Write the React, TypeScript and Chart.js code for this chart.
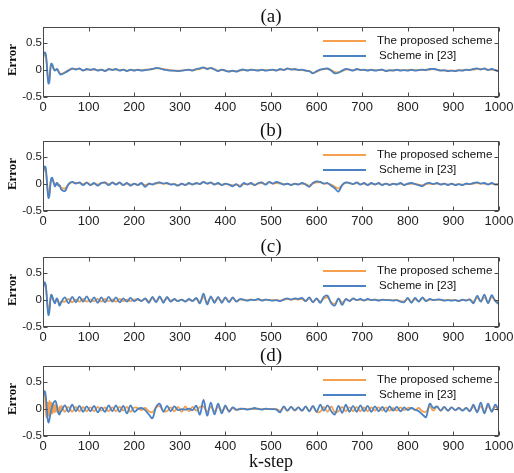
import React, { useEffect, useRef } from "react";
import { Chart, registerables } from "chart.js";

Chart.register(...registerables);

// k-step sample positions
const K = [
  0, 2, 4, 6, 8, 10, 12, 14, 16, 18, 20, 22, 24, 26, 28, 30, 32, 34, 36, 38,
  40, 48, 56, 64, 72, 80, 88, 96, 104, 112, 120, 128, 136, 144, 152, 160, 168, 176, 184, 192, 200,
  208, 216, 224, 232, 240, 248, 256, 264, 272, 280, 288, 296, 304, 312, 320, 328, 336, 344, 352, 360, 368, 376, 384, 392, 400,
  408, 416, 424, 432, 440, 448, 456, 464, 472, 480, 488, 496, 504, 512, 520, 528, 536, 544, 552, 560, 568, 576, 584, 592, 600,
  608, 616, 624, 632, 640, 648, 656, 664, 672, 680, 688, 696, 704, 712, 720, 728, 736, 744, 752, 760, 768, 776, 784, 792, 800,
  808, 816, 824, 832, 840, 848, 856, 864, 872, 880, 888, 896, 904, 912, 920, 928, 936, 944, 952, 960, 968, 976, 984, 992, 1000,
];

// Panel (a)
const A_PROPOSED = [
  0.20, 0.28, 0.30, 0.27, 0.12, -0.08, -0.18, -0.16, 0.00, 0.08, 0.09, 0.05, 0.02, 0.00, 0.01, 0.01, 0.00, -0.02, -0.05, -0.07,
  -0.07, -0.04, 0.00, 0.02, 0.02, 0.02, 0.00, 0.01, 0.01, 0.01, 0.00, 0.01, -0.01, 0.01, 0.01, 0.01, 0.00, 0.01, -0.01, 0.00, 0.00,
  0.00, 0.00, 0.01, 0.01, 0.02, 0.03, 0.03, 0.02, 0.01, 0.00, -0.01, -0.01, -0.01, 0.00, 0.00, 0.00, 0.01, 0.02, 0.04, 0.03, 0.03, 0.02, -0.01, 0.00, -0.01,
  -0.02, -0.02, -0.02, -0.01, 0.00, 0.00, 0.00, 0.00, 0.00, 0.00, 0.00, 0.00, 0.00, 0.00, 0.01, 0.01, 0.02, 0.02, 0.01, 0.01, 0.00, -0.01, -0.02, -0.05, -0.03,
  0.00, 0.02, 0.02, 0.00, -0.04, -0.04, -0.02, 0.01, 0.01, 0.00, 0.01, 0.01, 0.00, 0.00, 0.00, 0.00, 0.00, 0.00, -0.01, -0.01, 0.00, 0.00, 0.00, 0.00, 0.00,
  0.00, 0.00, 0.00, 0.00, 0.01, 0.01, 0.02, 0.01, 0.00, -0.01, -0.01, -0.01, -0.01, -0.01, 0.00, 0.00, 0.01, 0.01, 0.02, 0.02, 0.02, 0.01, 0.01, 0.00, -0.02,
];
const A_SCHEME23 = [
  0.22, 0.31, 0.33, 0.30, 0.15, -0.10, -0.25, -0.22, 0.02, 0.12, 0.11, 0.06, 0.01, -0.01, 0.00, 0.02, 0.01, -0.03, -0.06, -0.08,
  -0.08, -0.05, -0.01, 0.03, 0.01, 0.03, -0.01, 0.02, 0.00, 0.02, -0.01, 0.01, -0.02, 0.02, 0.00, 0.02, -0.01, 0.01, -0.02, 0.01, -0.01,
  0.01, -0.01, 0.00, 0.01, 0.02, 0.04, 0.03, 0.01, 0.00, -0.01, -0.01, -0.02, -0.01, 0.00, 0.01, -0.01, 0.02, 0.03, 0.05, 0.02, 0.04, 0.01, -0.02, 0.01, -0.01,
  -0.03, -0.01, -0.03, 0.00, 0.01, -0.01, 0.01, 0.00, -0.01, 0.01, -0.01, 0.00, 0.01, -0.01, 0.02, 0.00, 0.03, 0.01, 0.02, 0.00, 0.01, -0.01, -0.02, -0.06, -0.02,
  0.01, 0.02, 0.03, -0.01, -0.06, -0.05, -0.01, 0.02, 0.01, -0.01, 0.02, 0.00, 0.01, -0.01, 0.01, -0.01, 0.00, 0.01, -0.02, 0.00, -0.01, 0.01, -0.01, 0.00, -0.01,
  0.01, -0.01, 0.00, 0.01, 0.00, 0.02, 0.02, 0.01, -0.01, 0.00, -0.02, -0.01, -0.02, 0.00, -0.01, 0.01, 0.00, 0.02, 0.03, 0.01, 0.03, 0.00, 0.02, 0.00, -0.03,
];

// Panel (b)
const B_PROPOSED = [
  0.18, 0.27, 0.29, 0.25, 0.10, -0.08, -0.20, -0.17, -0.02, 0.08, 0.10, 0.06, 0.02, -0.02, -0.01, 0.01, 0.01, -0.02, -0.02, -0.04,
  -0.07, -0.08, -0.01, 0.03, 0.02, 0.02, 0.00, 0.02, -0.01, 0.01, -0.01, 0.02, 0.02, 0.00, 0.02, 0.00, 0.02, -0.01, 0.01, -0.01, 0.00,
  -0.01, 0.01, -0.02, 0.00, 0.00, 0.01, 0.02, 0.01, 0.01, 0.00, 0.00, -0.02, 0.00, -0.01, 0.01, 0.00, 0.01, 0.01, 0.03, 0.01, 0.02, 0.00, 0.01, -0.01, 0.00,
  -0.01, -0.02, -0.01, -0.03, 0.00, 0.00, 0.01, -0.01, 0.01, 0.02, 0.00, 0.03, 0.01, 0.02, 0.01, 0.00, 0.00, -0.01, 0.00, 0.00, 0.01, 0.00, -0.03, 0.01, 0.03,
  0.03, 0.01, 0.01, -0.01, -0.05, -0.08, -0.02, 0.02, 0.02, 0.00, 0.02, 0.00, 0.01, -0.01, 0.01, 0.00, 0.01, -0.01, 0.01, -0.01, 0.00, 0.00, 0.01, -0.01, 0.00,
  0.01, 0.00, -0.01, -0.02, 0.00, 0.01, 0.00, 0.01, 0.00, 0.01, -0.01, 0.00, -0.01, 0.00, -0.01, 0.00, 0.00, 0.01, 0.02, 0.01, 0.01, 0.00, 0.01, 0.00, 0.00,
];
const B_SCHEME23 = [
  0.20, 0.30, 0.33, 0.30, 0.12, -0.12, -0.26, -0.22, -0.02, 0.10, 0.12, 0.07, 0.01, -0.04, -0.02, 0.02, 0.01, -0.03, -0.02, -0.06,
  -0.10, -0.13, 0.00, 0.04, 0.01, 0.03, -0.02, 0.03, -0.02, 0.02, -0.03, 0.02, 0.03, -0.02, 0.03, -0.01, 0.03, -0.02, 0.02, -0.03, 0.01,
  -0.02, 0.02, -0.05, 0.01, -0.01, 0.02, 0.03, 0.01, 0.02, -0.01, 0.00, -0.03, 0.01, -0.02, 0.02, -0.01, 0.02, 0.00, 0.04, 0.01, 0.03, -0.01, 0.02, -0.02, 0.01,
  -0.01, -0.04, 0.00, -0.05, 0.02, -0.01, 0.02, -0.02, 0.02, 0.03, -0.01, 0.04, 0.01, 0.04, 0.02, -0.01, 0.01, -0.02, 0.01, -0.01, 0.02, -0.01, -0.05, 0.02, 0.05,
  0.04, 0.01, 0.02, -0.03, -0.08, -0.14, -0.02, 0.03, 0.02, 0.00, 0.03, -0.01, 0.02, -0.02, 0.02, -0.01, 0.02, -0.02, 0.01, -0.02, 0.01, -0.01, 0.02, -0.02, 0.01,
  0.02, 0.00, -0.02, -0.04, 0.01, 0.02, 0.00, 0.02, -0.01, 0.01, -0.02, 0.01, -0.02, 0.00, -0.02, 0.01, 0.00, 0.02, 0.03, 0.01, 0.02, -0.01, 0.02, -0.01, 0.00,
];

// Panel (c)
const C_PROPOSED = [
  0.20, 0.28, 0.30, 0.25, 0.08, -0.10, -0.20, -0.15, 0.00, 0.07, 0.06, 0.02, -0.02, -0.04, -0.01, 0.02, 0.01, -0.03, -0.06, -0.05,
  -0.03, -0.03, 0.02, -0.04, 0.01, -0.03, 0.02, -0.03, 0.01, -0.02, 0.02, -0.03, 0.02, -0.02, 0.01, -0.03, 0.02, -0.02, 0.01, -0.02, 0.01,
  0.01, -0.01, 0.02, -0.02, 0.03, -0.02, 0.04, -0.02, 0.03, -0.01, 0.01, -0.02, 0.01, -0.02, 0.01, -0.01, 0.02, -0.03, 0.06, -0.04, 0.04, -0.02, 0.03, -0.02, 0.03,
  -0.02, 0.03, -0.02, 0.01, 0.00, 0.00, 0.01, 0.00, 0.01, 0.00, 0.01, 0.00, 0.00, 0.00, -0.01, 0.01, 0.02, 0.01, 0.02, 0.01, 0.02, -0.01, 0.03, -0.03, 0.02,
  -0.03, 0.03, 0.05, -0.04, -0.07, 0.02, -0.05, 0.01, -0.01, 0.02, 0.00, 0.01, 0.00, 0.01, 0.00, 0.01, 0.00, 0.00, 0.00, 0.00, 0.00, 0.00, -0.02, -0.02, 0.02,
  -0.03, 0.02, -0.02, 0.03, -0.01, 0.01, 0.00, 0.01, 0.00, 0.00, 0.00, 0.00, 0.00, -0.01, 0.00, 0.00, 0.01, -0.03, 0.04, -0.02, 0.05, -0.03, 0.05, -0.01, -0.04,
];
const C_SCHEME23 = [
  0.22, 0.31, 0.33, 0.28, 0.10, -0.15, -0.28, -0.22, 0.00, 0.10, 0.08, 0.02, -0.03, -0.06, -0.02, 0.03, 0.01, -0.05, -0.10, -0.08,
  -0.04, 0.05, -0.06, 0.06, -0.04, 0.06, -0.03, 0.07, -0.04, 0.05, -0.05, 0.05, -0.04, 0.06, -0.03, 0.05, -0.04, 0.03, -0.03, 0.04, -0.02,
  0.02, -0.02, 0.03, -0.05, 0.06, -0.04, 0.07, -0.05, 0.06, -0.03, 0.02, -0.02, 0.01, -0.03, 0.02, -0.02, 0.04, -0.06, 0.12, -0.08, 0.07, -0.05, 0.06, -0.05, 0.05,
  -0.04, 0.05, -0.03, 0.02, 0.01, -0.01, 0.01, 0.00, 0.02, -0.01, 0.01, 0.00, -0.01, 0.00, -0.02, 0.01, 0.03, 0.01, 0.03, 0.02, 0.04, -0.02, 0.05, -0.04, 0.03,
  -0.05, 0.06, 0.08, -0.06, -0.10, 0.03, -0.09, 0.02, -0.02, 0.03, 0.00, 0.02, -0.01, 0.02, 0.00, 0.01, -0.01, 0.01, 0.00, 0.00, -0.01, 0.00, -0.03, -0.04, 0.04,
  -0.05, 0.04, -0.03, 0.05, -0.02, 0.02, 0.00, 0.01, 0.01, -0.01, 0.00, -0.01, 0.00, -0.02, 0.01, -0.01, 0.01, -0.06, 0.08, -0.03, 0.10, -0.06, 0.09, -0.02, -0.08,
];

// Panel (d)
const D_PROPOSED = [
  0.20, 0.28, 0.30, -0.05, -0.15, 0.12, -0.12, 0.15, -0.10, 0.12, -0.08, 0.10, -0.06, 0.08, -0.05, 0.06, -0.04, -0.06, 0.04, -0.05,
  0.06, -0.05, 0.04, -0.05, 0.04, -0.04, 0.04, -0.04, 0.03, -0.04, 0.04, -0.03, 0.03, -0.04, 0.03, -0.04, 0.04, -0.03, 0.04, -0.05, 0.03,
  0.02, -0.02, 0.02, -0.04, -0.06, 0.03, 0.05, -0.03, -0.04, 0.03, -0.04, 0.04, -0.05, 0.05, -0.04, 0.04, -0.03, 0.04, 0.05, -0.05, 0.04, -0.04, 0.04, -0.03, 0.03,
  -0.03, 0.02, -0.02, 0.01, 0.00, 0.00, 0.01, 0.00, 0.01, 0.00, 0.00, 0.00, 0.00, 0.00, -0.03, 0.03, -0.03, 0.04, -0.03, 0.03, -0.03, 0.04, -0.04, 0.05, -0.05,
  -0.05, 0.04, -0.05, 0.05, -0.06, -0.04, 0.04, -0.04, 0.03, -0.04, 0.04, -0.04, 0.03, -0.04, 0.03, -0.03, 0.03, -0.03, 0.03, -0.03, 0.02, -0.03, 0.03, -0.02, 0.02,
  0.02, -0.02, 0.02, -0.04, -0.05, 0.05, -0.03, 0.04, -0.03, 0.03, -0.03, 0.03, -0.02, 0.02, -0.02, 0.02, -0.03, 0.04, -0.04, 0.05, -0.04, 0.05, -0.03, 0.04, -0.03,
];
const D_SCHEME23 = [
  0.22, 0.31, 0.33, 0.25, 0.05, -0.18, -0.25, -0.20, -0.10, -0.02, 0.05, 0.10, 0.13, 0.15, 0.14, 0.08, -0.02, -0.08, -0.10, -0.06,
  -0.04, 0.07, -0.05, 0.08, -0.04, 0.06, -0.05, 0.05, -0.04, 0.06, -0.06, 0.03, -0.05, 0.07, -0.04, 0.07, -0.05, 0.06, -0.08, 0.07, -0.05,
  0.00, 0.02, -0.02, -0.10, -0.17, 0.04, 0.10, -0.05, 0.06, -0.04, 0.05, -0.02, 0.00, -0.01, 0.01, -0.02, 0.06, -0.10, 0.17, -0.12, 0.12, -0.10, 0.10, -0.08, 0.07,
  -0.05, 0.03, -0.01, 0.00, 0.01, -0.01, 0.00, 0.02, 0.00, -0.01, 0.01, 0.00, 0.00, -0.01, -0.06, 0.05, -0.03, 0.04, -0.02, 0.03, -0.03, 0.05, -0.04, 0.06, -0.05,
  0.08, -0.03, 0.07, -0.04, -0.10, 0.06, -0.07, 0.08, -0.05, 0.06, -0.05, 0.07, -0.04, 0.06, -0.05, 0.05, -0.04, 0.04, -0.05, 0.05, -0.03, 0.04, -0.04, 0.03, -0.02,
  0.02, -0.01, -0.04, -0.10, -0.15, 0.10, 0.02, 0.05, -0.03, 0.04, -0.03, 0.03, -0.02, 0.02, -0.03, 0.02, -0.04, 0.08, -0.06, 0.12, -0.08, 0.10, -0.05, 0.08, -0.04,
];

const PANEL_TITLES = ["(a)", "(b)", "(c)", "(d)"];
const LEGEND_LABELS = ["The proposed scheme", "Scheme in [23]"];
const X_TICKS = [0, 100, 200, 300, 400, 500, 600, 700, 800, 900, 1000];
const Y_TICKS = [-0.5, 0, 0.5];
const Y_LABEL = "Error";
const X_LABEL = "k-step";

const ORANGE = "#F5A04F";
const BLUE = "#4A82C3";
const AXIS = "#4a4a4a";

const PLOT_LEFT = 43;
const PLOT_RIGHT = 499;
const PLOT_H = 70;
const CANVAS_W = 540;

type PanelProps = {
  title: string;
  proposed: number[];
  scheme: number[];
  plotTop: number;
  canvasTop: number;
  canvasH: number;
  showXLabel: boolean;
};

function Panel({ title, proposed, scheme, plotTop, canvasTop, canvasH, showXLabel }: PanelProps) {
  const ref = useRef<HTMLCanvasElement | null>(null);
  useEffect(() => {
    const padTop = plotTop - canvasTop;
    const xAxisH = 20;
    const padBottom = canvasH - padTop - PLOT_H - xAxisH;
    const deco = {
      id: "deco",
      afterDraw(chart: any) {
        const { ctx } = chart;
        const { left, right, top, bottom } = chart.chartArea;
        const xs = chart.scales.x;
        const ys = chart.scales.y;
        ctx.save();
        ctx.strokeStyle = AXIS;
        ctx.lineWidth = 1;
        const l = Math.round(left) + 0.5;
        const r = Math.round(right) - 0.5;
        const t = Math.round(top) + 0.5;
        const b = Math.round(bottom) - 0.5;
        ctx.strokeRect(l, t, r - l, b - t);
        ctx.beginPath();
        for (const v of X_TICKS) {
          const px = Math.round(xs.getPixelForValue(v)) + 0.5;
          ctx.moveTo(px, b);
          ctx.lineTo(px, b - 4);
          ctx.moveTo(px, t);
          ctx.lineTo(px, t + 4);
        }
        for (const v of Y_TICKS) {
          const py = Math.round(ys.getPixelForValue(v)) + 0.5;
          ctx.moveTo(l, py);
          ctx.lineTo(l + 4, py);
          ctx.moveTo(r, py);
          ctx.lineTo(r - 4, py);
        }
        ctx.stroke();

        // title
        ctx.fillStyle = "#111";
        ctx.textAlign = "center";
        ctx.textBaseline = "middle";
        ctx.font = '19px "Liberation Serif", "Times New Roman", serif';
        ctx.fillText(title, (left + right) / 2, top - 10);

        // y label
        ctx.save();
        ctx.translate(13, (top + bottom) / 2 - 2);
        ctx.rotate(-Math.PI / 2);
        ctx.font = 'bold 13px "Liberation Serif", "Times New Roman", serif';
        ctx.fillText(Y_LABEL, 0, 0);
        ctx.restore();

        // legend
        const colors = [ORANGE, BLUE];
        ctx.font = '11.6px "Liberation Sans", Arial, sans-serif';
        ctx.textAlign = "left";
        LEGEND_LABELS.forEach((lab, i) => {
          const y = top + 14 + i * 15;
          ctx.strokeStyle = colors[i];
          ctx.lineWidth = 1.8;
          ctx.beginPath();
          ctx.moveTo(right - 176, y);
          ctx.lineTo(right - 133, y);
          ctx.stroke();
          ctx.fillStyle = "#111";
          ctx.fillText(lab, right - 122 + (i === 1 ? 2 : 0), y);
        });

        if (showXLabel) {
          ctx.textAlign = "center";
          ctx.font = '18px "Liberation Serif", "Times New Roman", serif';
          ctx.fillStyle = "#111";
          ctx.fillText(X_LABEL, (left + right) / 2, bottom + 26);
        }
        ctx.restore();
      },
    };

    const chart = new Chart(ref.current as HTMLCanvasElement, {
      type: "line",
      data: {
        datasets: [
          {
            label: LEGEND_LABELS[1],
            data: K.map((k, i) => ({ x: k, y: scheme[i] })),
            borderColor: BLUE,
            borderWidth: 1.8,
            pointRadius: 0,
            tension: 0.35,
            fill: false,
          },
          {
            label: LEGEND_LABELS[0],
            data: K.map((k, i) => ({ x: k, y: proposed[i] })),
            borderColor: ORANGE,
            borderWidth: 1.8,
            pointRadius: 0,
            tension: 0.35,
            fill: false,
          },
        ],
      },
      options: {
        animation: false,
        responsive: false,
        events: [],
        layout: { padding: { left: 0, right: CANVAS_W - PLOT_RIGHT, top: padTop, bottom: padBottom } },
        plugins: { legend: { display: false }, title: { display: false }, tooltip: { enabled: false } },
        scales: {
          x: {
            type: "linear",
            min: 0,
            max: 1000,
            border: { display: false },
            grid: { display: false, drawTicks: false },
            afterBuildTicks: (s: any) => {
              s.ticks = X_TICKS.map((v) => ({ value: v }));
            },
            afterFit: (s: any) => {
              s.height = xAxisH;
            },
            ticks: {
              autoSkip: false,
              maxRotation: 0,
              padding: 3,
              color: "#222",
              font: { family: '"Liberation Sans", Arial, sans-serif', size: 13 },
              callback: (v: any) => String(v),
            },
          },
          y: {
            type: "linear",
            min: -0.5,
            max: 0.8,
            border: { display: false },
            grid: { display: false, drawTicks: false },
            afterBuildTicks: (s: any) => {
              s.ticks = Y_TICKS.map((v) => ({ value: v }));
            },
            afterFit: (s: any) => {
              s.width = PLOT_LEFT;
            },
            ticks: {
              padding: 1,
              color: "#222",
              font: { family: '"Liberation Sans", Arial, sans-serif', size: 11.5 },
              callback: (v: any) => String(v),
            },
          },
        },
      },
      plugins: [deco],
    } as any);
    return () => chart.destroy();
  }, []);
  return (
    <canvas
      ref={ref}
      width={CANVAS_W}
      height={canvasH}
      style={{ position: "absolute", left: 0, top: canvasTop, width: CANVAS_W, height: canvasH }}
    />
  );
}

const PANELS = [
  { proposed: A_PROPOSED, scheme: A_SCHEME23, plotTop: 27 },
  { proposed: B_PROPOSED, scheme: B_SCHEME23, plotTop: 141 },
  { proposed: C_PROPOSED, scheme: C_SCHEME23, plotTop: 257 },
  { proposed: D_PROPOSED, scheme: D_SCHEME23, plotTop: 366 },
];

export default function App() {
  return (
    <div style={{ position: "absolute", left: 0, top: 0, width: 514, height: 473, background: "#fff", overflow: "hidden" }}>
      {PANELS.map((p, i) => {
        const canvasTop = p.plotTop - 27;
        const last = i === PANELS.length - 1;
        const canvasH = last ? 473 - canvasTop : 27 + PLOT_H + 20;
        return (
          <Panel
            key={i}
            title={PANEL_TITLES[i]}
            proposed={p.proposed}
            scheme={p.scheme}
            plotTop={p.plotTop}
            canvasTop={canvasTop}
            canvasH={canvasH}
            showXLabel={last}
          />
        );
      })}
    </div>
  );
}
